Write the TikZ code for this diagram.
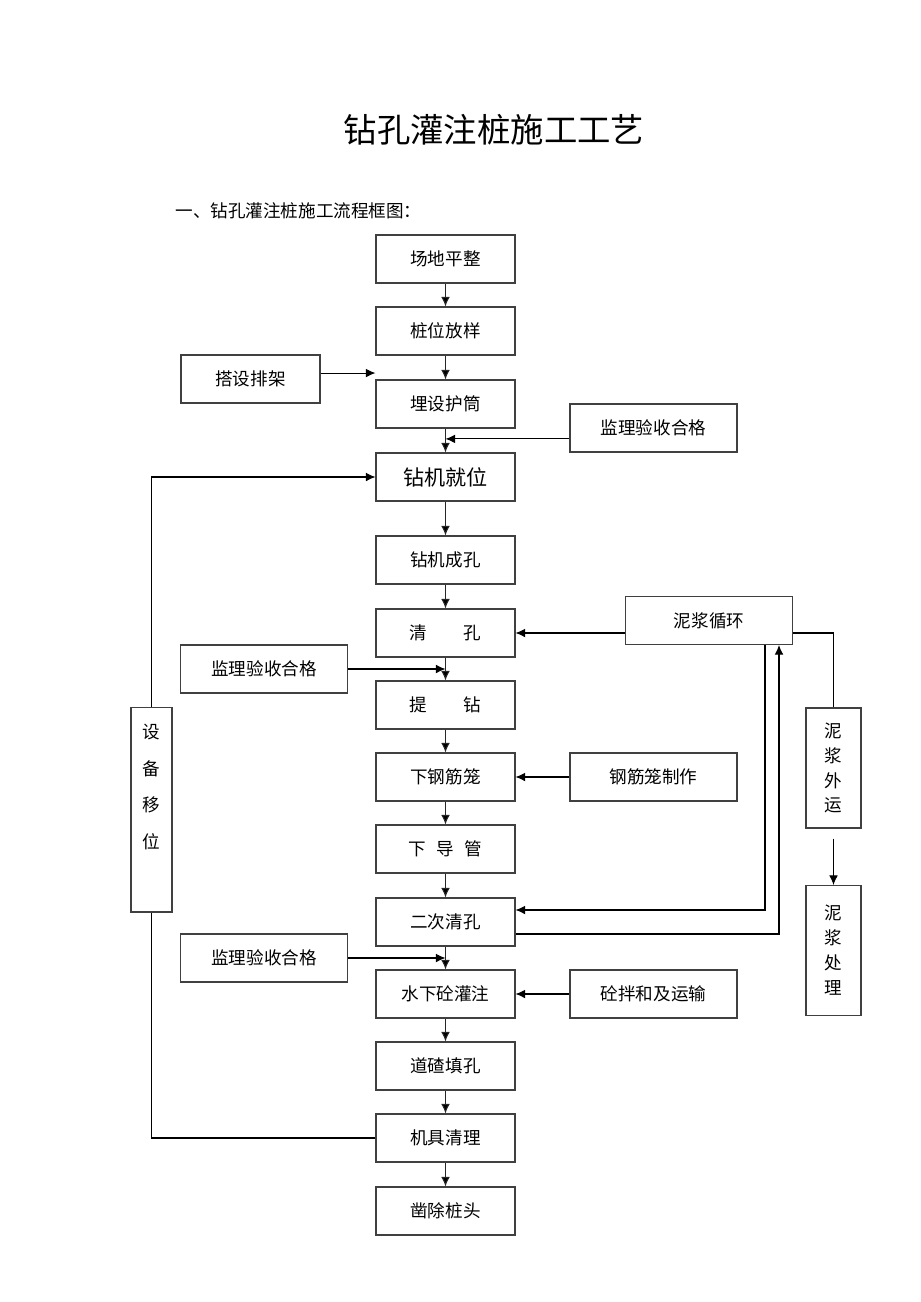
\documentclass[tikz,border=0pt]{standalone}
\usepackage{fontspec}
\newfontfamily\cjk{Noto Sans CJK SC}
\usetikzlibrary{arrows.meta}

\begin{document}
\begin{tikzpicture}[x=0.02cm,y=-0.02cm,>={Latex[length=5.5pt,width=5pt]},
                    line width=0.6pt,
                    main node/.style={rectangle,draw=black!75,inner sep=0pt,
                      minimum width=2.78cm,minimum height=0.96cm,
                      font=\cjk\fontsize{10pt}{12pt}\selectfont},
                    side node/.style={main node,minimum width=3.34cm},
                    tall node/.style={main node,align=center,
                      font=\cjk\fontsize{10pt}{14.2pt}\selectfont}]

  \useasboundingbox (0,0) rectangle (920,1302);

  % headings
  \node (title) at (494,130) {\cjk\fontsize{19pt}{19pt}\selectfont 钻孔灌注桩施工工艺};
  \node[anchor=west,inner sep=0pt] (caption) at (175,211)
    {\cjk\fontsize{10pt}{12pt}\selectfont 一、钻孔灌注桩施工流程框图：};

  % main column
  \node[main node] (level)  at (445.5,259)  {场地平整};
  \node[main node] (stake)  at (445.5,331)  {桩位放样};
  \node[main node] (bury)   at (445.5,404)  {埋设护筒};
  \node[main node,font=\cjk\fontsize{12pt}{14pt}\selectfont]
                   (rig)    at (445.5,477)  {钻机就位};
  \node[main node] (drill)  at (445.5,560)  {钻机成孔};
  \node[main node] (clean)  at (445.5,633)  {清\hspace{2.1em}孔};
  \node[main node] (lift)   at (445.5,705)  {提\hspace{2.1em}钻};
  \node[main node] (lower)  at (445.5,777)  {下钢筋笼};
  \node[main node] (pipe)   at (445.5,849)  {下\hspace{0.6em}导\hspace{0.6em}管};
  \node[main node] (second) at (445.5,922)  {二次清孔};
  \node[main node] (pour)   at (445.5,994)  {水下砼灌注};
  \node[main node] (fill)   at (445.5,1066) {道碴填孔};
  \node[main node] (clear)  at (445.5,1138) {机具清理};
  \node[main node] (chisel) at (445.5,1211) {凿除桩头};

  % side boxes
  \node[main node] (frame)  at (250.5,379)  {搭设排架};
  \node[side node] (check1) at (653.5,428)  {监理验收合格};
  \node[side node] (mud)    at (709,620.5)  {泥浆循环};
  \node[side node] (check2) at (264,669)    {监理验收合格};
  \node[side node] (cage)   at (653.5,777)  {钢筋笼制作};
  \node[side node] (check3) at (264,958)    {监理验收合格};
  \node[side node] (mix)    at (653.5,994)  {砼拌和及运输};
  \node[tall node,minimum width=1.1cm,minimum height=2.4cm]
                   (haul)   at (833.5,768)  {泥\\浆\\外\\运};
  \node[tall node,minimum width=1.1cm,minimum height=2.6cm]
                   (treat)  at (833.5,950.5) {泥\\浆\\处\\理};
  \node[main node,minimum width=0.82cm,minimum height=4.1cm]
                   (move)   at (151.5,809.5) {};
  \node[align=center,font=\cjk\fontsize{10pt}{21pt}\selectfont]
                   (movetext) at (151.5,787) {设\\备\\移\\位};

  \coordinate (mudout)  at (765,910);
  \coordinate (mudback) at (779,934);

  % main flow
  \path[->,draw=black!85]
    (level)  edge (stake)
    (stake)  edge (bury)
    (bury)   edge (rig)
    (rig)    edge (drill)
    (drill)  edge (clean)
    (clean)  edge (lift)
    (lift)   edge (lower)
    (lower)  edge (pipe)
    (pipe)   edge (second)
    (second) edge (pour)
    (pour)   edge (fill)
    (fill)   edge (clear)
    (clear)  edge (chisel);

  % side inputs
  \draw[->] ([yshift=3.4pt]frame.east) -- ([yshift=3.4pt]frame.east -| bury.west);
  \draw[->] ([yshift=-6.2pt]check1.west) -- ([yshift=-6.2pt]check1.west -| bury.south);
  \draw[->] (check2.east) -- (check2.east -| lift.north);
  \draw[->] (check3.east) -- (check3.east -| pour.north);
  \draw[->] (cage.west) -- (lower.east);
  \draw[->] (mix.west) -- (pour.east);
  \draw[->] (clean.east -| mud.west) -- (clean.east);

  % mud loop
  \draw (clean.east -| mud.east) -| (haul.north);
  \draw[->] (mudout |- mud.south) |- (second.east |- mudout);
  \draw[->] (second.east |- mudback) -| (mudback |- mud.south);
  \draw[->] ([yshift=-5.7pt]haul.south) -- (treat.north);

  % rig moving
  \draw[->] (move.north) |- (rig.west);
  \draw (move.south) |- (clear.west);
\end{tikzpicture}
\end{document}
